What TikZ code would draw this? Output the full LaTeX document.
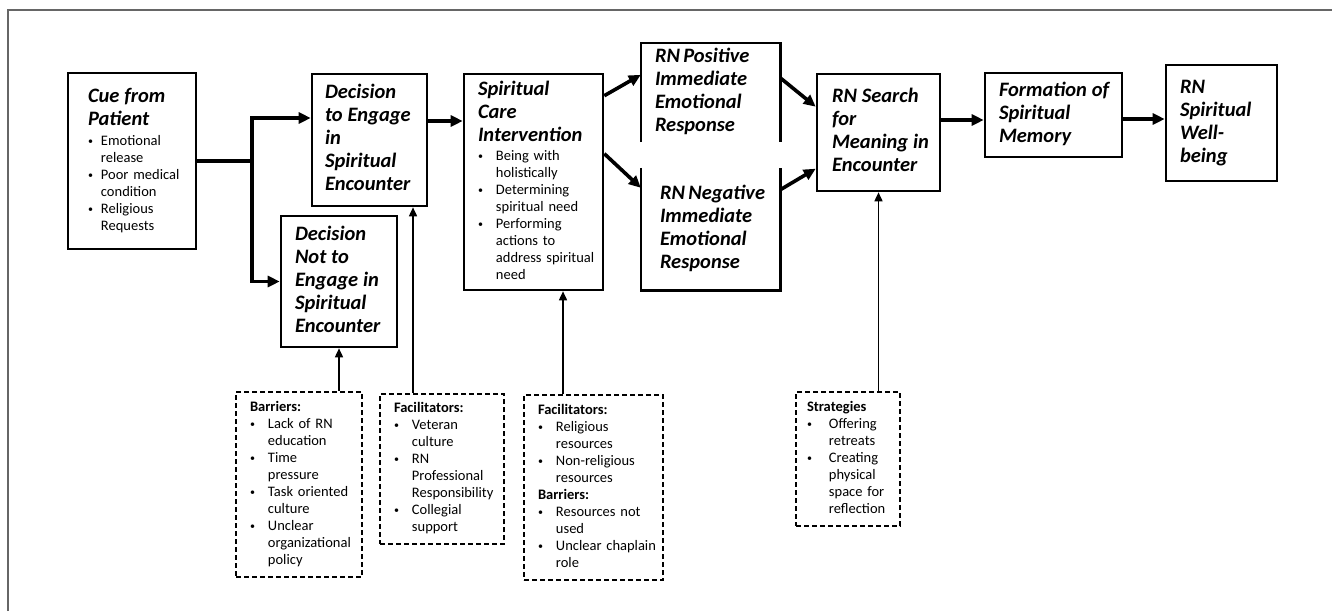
\documentclass[tikz,border=0pt]{standalone}
\usepackage{fontspec}
\setmainfont{Carlito}
\usepackage{tikz}
\usetikzlibrary{arrows.meta}

% bullet list: first column the bullet, second the lines
\newcommand{\bu}{\raisebox{1pt}{\fontsize{10}{10}\selectfont\textbullet}}
\newcommand{\blist}[2][11pt]{{\begin{tabular}[t]{@{}l@{\hspace{#1}}l@{}}#2\end{tabular}\par}}
\newcommand{\hd}[1]{\multicolumn{2}{@{}l@{}}{\textbf{#1}}}
\newcommand{\ttl}[1]{{\fontsize{20.5}{23}\selectfont\bfseries\itshape
    \begin{tabular}[t]{@{}l@{}}#1\end{tabular}\par}}

\begin{document}
\begin{tikzpicture}[x=1pt, y=-1pt,
    box/.style={draw, line width=2.6pt, align=left, inner xsep=14pt, inner ysep=0pt,
                font=\fontsize{14.5}{17}\selectfont},
    openbox/.style={align=left, inner xsep=14pt, inner ysep=0pt},
    dbox/.style={draw, dash pattern=on 5pt off 3pt, line width=2.2pt,
                 align=left, inner xsep=14pt, inner ysep=0pt,
                 font=\fontsize{14.5}{17}\selectfont},
    flow/.style={line width=3.6pt, -{Triangle[length=12pt,width=11pt]}},
    link/.style={line width=1.6pt, -{Triangle[length=9pt,width=8pt]}}]

    \useasboundingbox (0,0) rectangle (1332,611);

    % 1. outer frame (only top and left edges are visible)
    \draw[line width=2pt, black!60] (8,611) -- (8,10) -- (1332,10);

    % 2. main boxes
    \node (cue) at (132,161) [box, inner xsep=20pt, text width=88, minimum height=176]
        {\ttl{Cue from\\Patient}
         \blist[8pt]{\bu & Emotional\\ & release\\
                \bu & Poor medical\\ & condition\\
                \bu & Religious\\ & Requests}};
    \node (engage) at (369.5,140) [box, inner xsep=13pt, text width=89, minimum height=132]
        {\ttl{Decision\\to Engage\\in\\Spiritual\\Encounter}};
    \node (notengage) at (339,281.5) [box, text width=88, minimum height=131]
        {\ttl{Decision\\Not to\\Engage in\\Spiritual\\Encounter}};
    \node (sci) at (533.5,182) [box, text width=111, minimum height=216]
        {\ttl{Spiritual\\Care\\Intervention}
         \blist[13pt]{\bu & Being with\\ & holistically\\
                \bu & Determining\\ & spiritual need\\
                \bu & Performing\\ & actions to\\ & address spiritual\\ & need}};

    % the two response boxes are open towards each other
    \node (pos) at (710.5,92.5) [openbox, text width=111, minimum height=99]
        {\ttl{RN Positive\\Immediate\\Emotional\\Response}};
    \node (neg) at (710.5,229) [openbox, inner xsep=19pt, text width=101, minimum height=122]
        {\ttl{RN Negative\\Immediate\\Emotional\\Response}};
    \draw[line width=2.6pt] (pos.south west) -- (pos.north west)
        -- (pos.north east) -- (pos.south east);
    \draw[line width=2.6pt] (neg.north west) -- (neg.south west)
        -- (neg.south east) -- (neg.north east);

    \node (search) at (878.5,132.5) [box, inner xsep=15pt, text width=93, minimum height=117]
        {\ttl{RN Search\\for\\Meaning in\\Encounter}};
    \node (memory) at (1053.5,115) [box, text width=109, minimum height=84]
        {\ttl{Formation of\\Spiritual\\Memory}};
    \node (wellbeing) at (1221.5,123) [box, text width=83, minimum height=116]
        {\ttl{RN\\Spiritual\\Well-\\being}};

    % 3. dashed boxes with barriers, facilitators, strategies
    \node (barr) at (299,484.5) [dbox, text width=98, minimum height=185]
        {\blist[13pt]{\hd{Barriers:}\\
                \bu & Lack of RN\\ & education\\
                \bu & Time\\ & pressure\\
                \bu & Task oriented\\ & culture\\
                \bu & Unclear\\ & organizational\\ & policy}};
    \node (facil) at (442,469) [dbox, text width=96, minimum height=150]
        {\blist[13pt]{\hd{Facilitators:}\\
                \bu & Veteran\\ & culture\\
                \bu & RN\\ & Professional\\ & Responsibility\\
                \bu & Collegial\\ & support}};
    \node (resources) at (593.5,487.5) [dbox, text width=111, minimum height=185]
        {\blist[13pt]{\hd{Facilitators:}\\
                \bu & Religious\\ & resources\\
                \bu & Non-religious\\ & resources\\
                \hd{Barriers:}\\
                \bu & Resources not\\ & used\\
                \bu & Unclear chaplain\\ & role}};
    \node (strat) at (848,459) [dbox, inner xsep=11pt, text width=82, minimum height=134]
        {\blist[17pt]{\hd{Strategies}\\
                \bu & Offering\\ & retreats\\
                \bu & Creating\\ & physical\\ & space for\\ & reflection}};

    % 4. main flow
    \coordinate (split) at (252,161);
    \draw[line width=3.6pt] (cue.east) -- (split);
    \draw[flow] (split) |- ([yshift=22pt]engage.west);
    \draw[flow] (split) |- (notengage.west);
    \draw[flow] ([yshift=19pt]engage.east) -- ([yshift=19pt]engage.east -| sci.west);
    \draw[flow] ([yshift=-23pt]sci.north east) -- ([yshift=-32pt]pos.north west);
    \draw[flow] ([yshift=-81pt]sci.north east) -- ([yshift=-20pt]neg.north west);
    \draw[flow] ([yshift=-35pt]pos.north east) -- ([yshift=-34pt]search.north west);
    \draw[flow] ([yshift=-22pt]neg.north east) -- ([yshift=-96pt]search.north west);
    \draw[flow] ([yshift=12.5pt]search.east) -- ([yshift=12.5pt]search.east -| memory.west);
    \draw[flow] ([yshift=-4pt]memory.east) -- ([yshift=-4pt]memory.east -| wellbeing.west);

    % 5. thin links from the dashed boxes
    \coordinate (engin) at ([xshift=43.5pt]engage.south);
    \coordinate (sciin) at ([xshift=29.5pt]sci.south);
    \draw[link] (notengage.south |- barr.north) -- (notengage.south);
    \draw[link] (engin |- facil.north) -- (engin);
    \draw[link] (sciin |- resources.north) -- (sciin);
    \draw[link] (search.south |- strat.north) -- (search.south);
\end{tikzpicture}
\end{document}
